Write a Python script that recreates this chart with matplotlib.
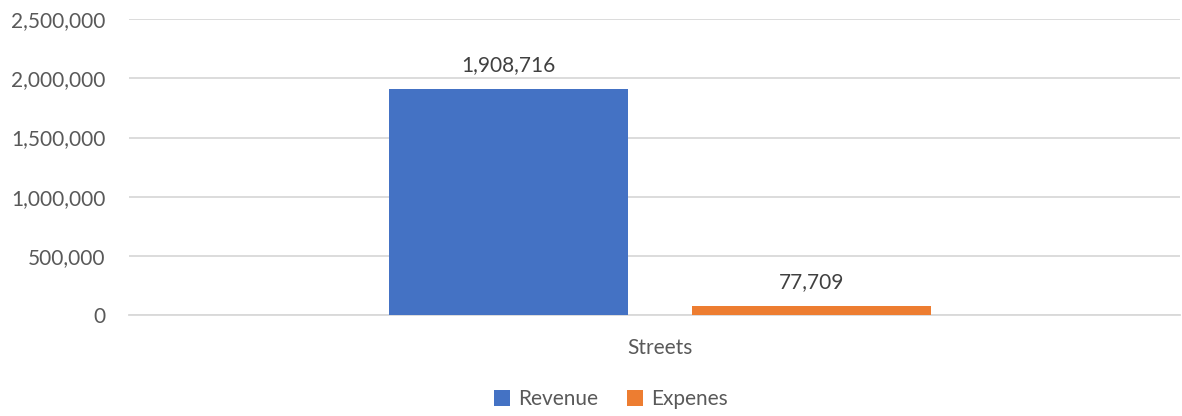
import matplotlib
matplotlib.use("Agg")
import matplotlib.pyplot as plt
from matplotlib.ticker import FuncFormatter

plt.rcParams["font.family"] = ["Lato", "DejaVu Sans"]

category = "Streets"
series_names = ["Revenue", "Expenes"]
series_values = [1908716, 77709]
colors = ["#4472C4", "#ED7D31"]
y_ticks = [0, 500000, 1000000, 1500000, 2000000, 2500000]

text_color = "#595959"

fig = plt.figure(figsize=(11.82, 4.16), dpi=100)
ax = fig.add_axes([0.109, 0.2416, 0.889, 0.7128])

width = 0.2274
offsets = [-0.1435, 0.1445]
for name, val, col, off in zip(series_names, series_values, colors, offsets):
    ax.bar(off, val, width=width, color=col, label=name, zorder=3)
    ax.annotate(f"{val:,}", (off, val), xytext=(0, 13), textcoords="offset points",
                ha="center", va="baseline", fontsize=15, color="#404040")

ax.set_xlim(-0.505, 0.495)
ax.set_ylim(0, 2500000)
ax.set_yticks(y_ticks)
ax.yaxis.set_major_formatter(FuncFormatter(lambda v, p: f"{int(v):,}"))
ax.set_xticks([0])
ax.set_xticklabels([category])
ax.grid(axis="y", color="#D9D9D9", linewidth=1.3, zorder=0)
ax.set_axisbelow(True)
for s in ["top", "right", "left"]:
    ax.spines[s].set_visible(False)
ax.spines["bottom"].set_color("#D9D9D9")
ax.spines["bottom"].set_linewidth(1.3)
ax.tick_params(axis="both", length=0, labelsize=15, colors=text_color)
ax.tick_params(axis="y", pad=17)
ax.tick_params(axis="x", pad=16)

fig.legend(loc="center", bbox_to_anchor=(0.517, 0.04), ncol=2, frameon=False,
           fontsize=15, labelcolor=text_color, handlelength=0.75, handleheight=0.75,
           handletextpad=0.4, columnspacing=1.4)

fig.savefig("out.png", dpi=100)
